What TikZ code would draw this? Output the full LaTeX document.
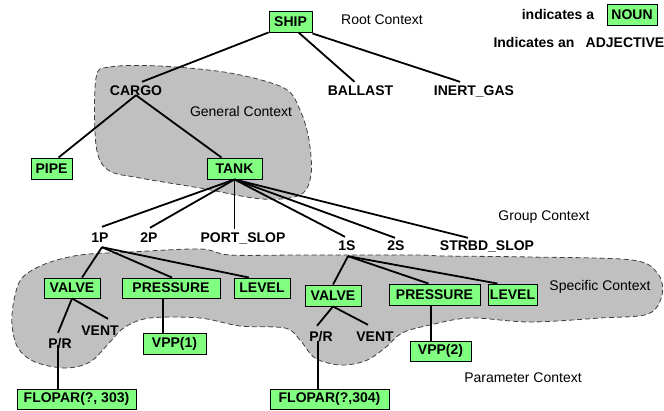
\documentclass[tikz,border=0pt]{standalone}
\usepackage{fontspec}
\setmainfont{Liberation Sans}
\definecolor{nounfill}{RGB}{128,255,128}
\definecolor{blobgray}{RGB}{192,192,192}
\begin{document}
\begin{tikzpicture}[x=1pt,y=-1pt,
  noun/.style={draw=black, line width=0.9pt, fill=nounfill,
    font=\fontsize{14}{16}\selectfont\bfseries, inner sep=0pt, minimum height=21pt},
  adj/.style={font=\fontsize{14}{16}\selectfont\bfseries, inner sep=3pt,
    text height=10pt, text depth=0pt},
  ctx/.style={font=\fontsize{14}{16}\selectfont, inner sep=0pt},
  link/.style={line width=1.8pt, black},
  blob/.style={fill=blobgray, draw=black!75, dash pattern=on 5pt off 3pt, line width=0.8pt}]
\useasboundingbox (0,0) rectangle (664,410);

% context regions
\draw[blob] plot[smooth cycle, tension=0.55] coordinates {
  (96,78) (110,67) (160,66) (230,73) (284,88) (300,110) (309,140)
  (311,175) (300,195) (262,199) (200,188) (140,178) (108,170) (96,145)};
\draw[blob] plot[smooth cycle, tension=0.55] coordinates {
  (14,300) (22,278) (45,264) (80,255) (130,252) (200,249) (230,255)
  (300,255) (415,255) (445,256) (530,257) (632,260) (658,274) (662,295)
  (648,314) (600,318) (530,322) (470,318) (430,325) (402,333) (385,348)
  (365,361) (340,365) (315,358) (300,340) (285,328) (240,326) (200,318)
  (150,318) (125,327) (110,342) (90,362) (65,368) (35,362) (18,348) (12,325)};

% context labels
\node[ctx] (rootctx) at (382,20) {Root Context};
\node[ctx] (genctx) at (241,111) {General Context};
\node[ctx] (grpctx) at (544,217) {Group Context};
\node[ctx] (specctx) at (600,287) {Specific Context};
\node[ctx] (parctx) at (523,378) {Parameter Context};

% legend
\node[adj] (leg1) at (558,14) {indicates a};
\node[noun, minimum width=50pt] (legnoun) at (632,14.5) {NOUN};
\node[adj] (leg2) at (534,42) {Indicates an};
\node[adj] (legadj) at (625,42) {ADJECTIVE};

% tree
\node[noun, minimum width=43pt] (ship) at (290.5,21.5) {SHIP};
\node[adj] (cargo) at (136,90) {CARGO};
\node[adj] (ballast) at (360.5,90) {BALLAST};
\node[adj] (inert) at (474,90) {INERT\_GAS};
\node[noun, minimum width=41pt] (pipe) at (51.5,168.5) {PIPE};
\node[noun, minimum width=55pt] (tank) at (234.5,168.5) {TANK};

\node[adj] (p1) at (100,237) {1P};
\node[adj] (p2) at (149,237) {2P};
\node[adj] (pslop) at (243,237) {PORT\_SLOP};
\node[adj] (s1) at (347,245) {1S};
\node[adj] (s2) at (396,245) {2S};
\node[adj] (sslop) at (487,245) {STRBD\_SLOP};

\node[noun, minimum width=56pt, minimum height=20pt] (valvea) at (72,288) {VALVE};
\node[noun, minimum width=98pt, minimum height=20pt] (pressa) at (171,288) {PRESSURE};
\node[noun, minimum width=56pt, minimum height=20pt] (levela) at (262,288) {LEVEL};
\node[noun, minimum width=56pt] (valveb) at (333,295.5) {VALVE};
\node[noun, minimum width=91pt] (pressb) at (434.5,294.5) {PRESSURE};
\node[noun, minimum width=49pt] (levelb) at (512.5,294.5) {LEVEL};

\node[adj] (pra) at (60,343) {P/R};
\node[adj] (venta) at (100,330) {VENT};
\node[adj] (prb) at (321,336) {P/R};
\node[adj] (ventb) at (375,336) {VENT};

\node[noun, minimum width=63pt] (vppa) at (174.5,343.5) {VPP(1)};
\node[noun, minimum width=61pt, minimum height=20pt] (vppb) at (440.5,351) {VPP(2)};
\node[noun, minimum width=119pt, minimum height=20pt] (flopa) at (76.5,399) {FLOPAR(?, 303)};
\node[noun, minimum width=119pt, minimum height=20pt] (flopb) at (329.5,399) {FLOPAR(?,304)};

% connectors
\draw[link] (ship.south west) -- ([xshift=6pt]cargo.north);
\draw[link] ([xshift=8pt]ship.south) -- ([xshift=-6pt]ballast.north);
\draw[link] ([yshift=-1pt]ship.south east) -- ([xshift=-14pt]inert.north);
\draw[link] ([yshift=3pt]cargo.south) -- ([xshift=7pt]pipe.north);
\draw[link] ([yshift=3pt]cargo.south) -- ([xshift=-13pt]tank.north);

\draw[link] (tank.south) -- ([xshift=2pt,yshift=2pt]p1.north);
\draw[link] (tank.south) -- ([xshift=1pt,yshift=1pt]p2.north);
\draw[link] (tank.south) -- (tank.south |- pslop.north);
\draw[link] (tank.south) -- ([xshift=-2pt]s1.north);
\draw[link] (tank.south) -- ([xshift=-1pt,yshift=-1pt]s2.north);
\draw[link] (tank.south) -- ([xshift=-19pt,yshift=-1pt]sslop.north);

\draw[link] ([xshift=2pt,yshift=-2pt]p1.south) -- ([xshift=10pt]valvea.north);
\draw[link] ([xshift=2pt,yshift=-2pt]p1.south) -- ([xshift=1pt]pressa.north);
\draw[link] ([xshift=2pt,yshift=-2pt]p1.south) -- ([xshift=-13pt]levela.north);
\draw[link] ([xshift=1pt,yshift=-3pt]s1.south) -- (valveb.north);
\draw[link] ([xshift=1pt,yshift=-3pt]s1.south) -- ([xshift=-6pt]pressb.north);
\draw[link] ([xshift=1pt,yshift=-3pt]s1.south) -- ([xshift=-15pt]levelb.north);

\draw[link] (valvea.south) -- ([xshift=-2pt,yshift=2pt]pra.north);
\draw[link] (valvea.south) -- ([xshift=8pt,yshift=3pt]venta.north);
\draw[link] ([xshift=-2pt,yshift=6pt]pra.south) -- ([xshift=-2pt]pra.south |- flopa.north);
\draw[link] ([xshift=-8pt]pressa.south) -- ([xshift=-8pt]pressa.south |- vppa.north);

\draw[link] (valveb.south) -- ([xshift=-4pt,yshift=2pt]prb.north);
\draw[link] (valveb.south) -- ([xshift=-7pt,yshift=3pt]ventb.north);
\draw[link] ([xshift=-3pt,yshift=3pt]prb.south) -- ([xshift=-3pt]prb.south |- flopb.north);
\draw[link] ([xshift=-3.5pt]pressb.south) -- ([xshift=-3.5pt]pressb.south |- vppb.north);
\end{tikzpicture}
\end{document}
